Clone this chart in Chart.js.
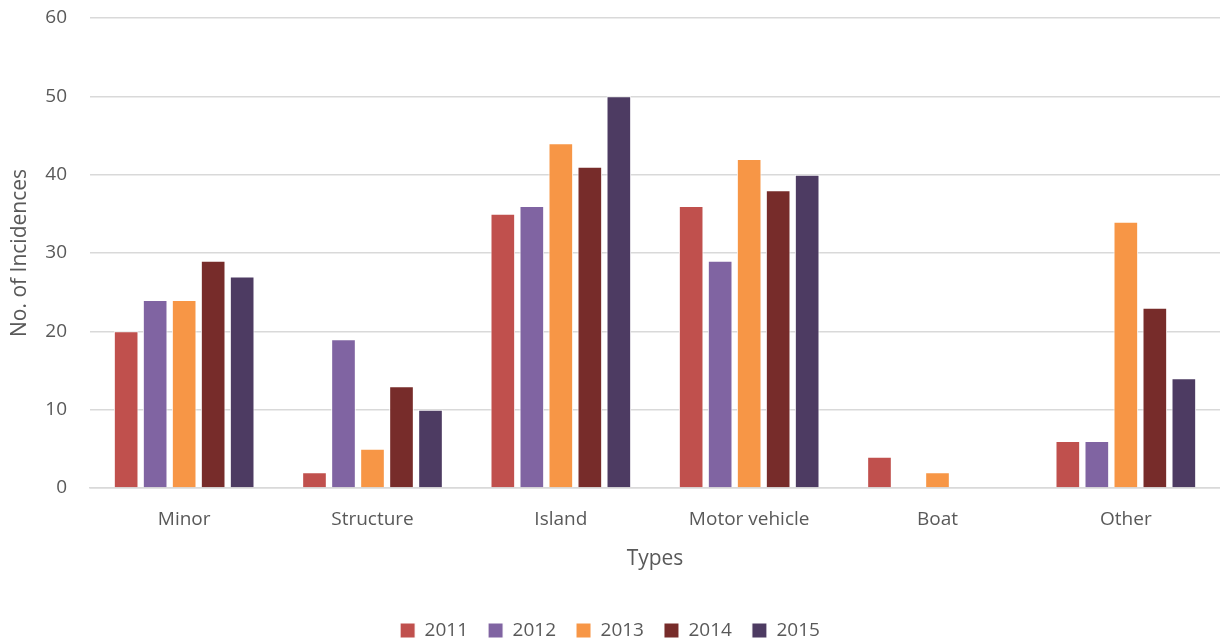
<!DOCTYPE html>
<html>
<head>
<meta charset="utf-8">
<script src="https://cdn.jsdelivr.net/npm/chart.js@4/dist/chart.umd.min.js"></script>
<style>
  html, body { margin: 0; padding: 0; background: #fff; }
  #wrap { width: 1220px; height: 639px; position: relative; }
</style>
</head>
<body>
<div id="wrap"><canvas id="incChart"></canvas></div>
<script>
const categories = ['Minor', 'Structure', 'Island', 'Motor vehicle', 'Boat', 'Other'];
const years = ['2011', '2012', '2013', '2014', '2015'];
const values2011 = [20, 2, 35, 36, 4, 6];
const values2012 = [24, 19, 36, 29, 0, 6];
const values2013 = [24, 5, 44, 42, 2, 34];
const values2014 = [29, 13, 41, 38, 0, 23];
const values2015 = [27, 10, 50, 40, 0, 14];
const colors = ['#C0504D', '#8064A2', '#F79646', '#772C2A', '#4D3B62'];

const seriesValues = [values2011, values2012, values2013, values2014, values2015];
const textColor = '#595959';
const fontFamily = "'Open Sans', 'Liberation Sans', sans-serif";

const ctx = document.getElementById('incChart').getContext('2d');

// Build datasets
const datasets = years.map((year, i) => ({
  label: year,
  data: seriesValues[i],
  backgroundColor: colors[i],
  borderColor: '#ffffff',
  borderWidth: 1,
  barPercentage: 0.85,
  categoryPercentage: 0.77
}));

// pull the legend closer to the bottom edge
const legendShift = {
  id: 'legendShift',
  beforeInit(chart) {
    const origFit = chart.legend.fit;
    chart.legend.fit = function () {
      origFit.bind(chart.legend)();
      this.height -= 11;
    };
  }
};

new Chart(ctx, {
  type: 'bar',
  data: {
    labels: categories,
    datasets: datasets
  },
  plugins: [legendShift],
  options: {
    responsive: true,
    maintainAspectRatio: false,
    animation: false,
    layout: {
      padding: { top: 0, right: 0, left: 0, bottom: 0 }
    },
    scales: {
      x: {
        grid: { display: false },
        border: { color: '#d9d9d9', width: 1.5 },
        ticks: { color: textColor, font: { family: fontFamily, size: 19 }, padding: 12 },
        title: {
          display: true,
          text: 'Types',
          color: textColor,
          font: { family: fontFamily, size: 21 },
          padding: { top: 4, bottom: 29 }
        }
      },
      y: {
        min: 0,
        max: 60,
        ticks: { stepSize: 10, color: textColor, font: { family: fontFamily, size: 19 }, padding: 23 },
        grid: { color: '#d9d9d9', lineWidth: 1.5, drawTicks: false },
        border: { display: false },
        title: {
          display: true,
          text: 'No. of Incidences',
          color: textColor,
          font: { family: fontFamily, size: 21 },
          padding: { top: 7, bottom: 0 }
        },
        afterFit(scale) {
          scale.width = 90;
          scale.paddingTop = 18;
        }
      }
    },
    plugins: {
      legend: {
        position: 'bottom',
        labels: {
          color: textColor,
          font: { family: fontFamily, size: 19 },
          boxWidth: 15,
          boxHeight: 15,
          padding: 20
        }
      },
      tooltip: { enabled: false }
    }
  }
});
</script>
</body>
</html>
